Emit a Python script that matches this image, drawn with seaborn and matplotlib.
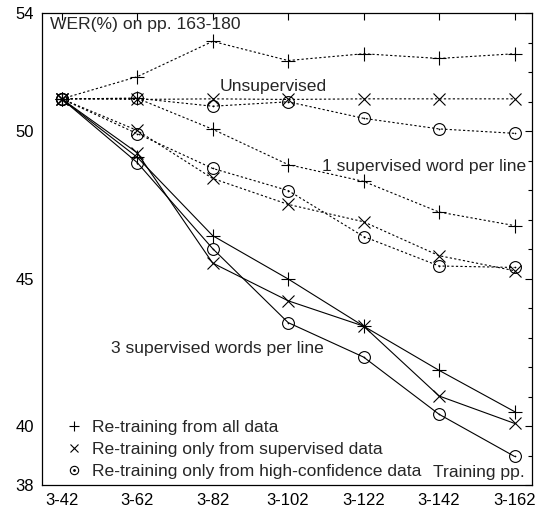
import numpy as np
import pandas as pd
import matplotlib
matplotlib.use("Agg")
import matplotlib.pyplot as plt
import seaborn as sns
from matplotlib.lines import Line2D
from matplotlib.legend_handler import HandlerTuple
from matplotlib.ticker import MultipleLocator

categories = ['3-42', '3-62', '3-82', '3-102', '3-122', '3-142', '3-162']

unsup_all = [51.1, 51.85, 53.05, 52.40, 52.63, 52.47, 52.63]
unsup_sup = [51.1, 51.08, 51.10, 51.08, 51.10, 51.10, 51.10]
unsup_conf = [51.1, 51.12, 50.85, 51.00, 50.44, 50.08, 49.93]
one_all = [51.1, 51.12, 50.07, 48.87, 48.30, 47.26, 46.80]
one_sup = [51.1, 50.03, 48.40, 47.52, 46.93, 45.78, 45.27]
one_conf = [51.1, 49.92, 48.74, 47.99, 46.43, 45.43, 45.38]
three_all = [51.1, 49.12, 46.46, 44.99, 43.39, 41.89, 40.49]
three_sup = [51.1, 49.27, 45.53, 44.25, 43.39, 41.02, 40.09]
three_conf = [51.1, 48.94, 46.02, 43.51, 42.34, 40.40, 38.97]

legend_labels = ['Re-training from all data',
                 'Re-training only from supervised data',
                 'Re-training only from high-confidence data']
y_ticks = [38, 40, 45, 50, 54]

sns.set_theme(style="white")
plt.rcParams['font.family'] = ['Liberation Sans', 'DejaVu Sans']
FS = 12.6

fig = plt.figure(figsize=(5.4, 5.14), dpi=100)
ax = fig.add_axes([0.0783, 0.0564, 0.985 - 0.0783, 0.974 - 0.0564])

x = np.arange(len(categories))
dotted = (0, (2, 2))
groups = [
    (unsup_all, unsup_sup, unsup_conf, dotted),
    (one_all, one_sup, one_conf, dotted),
    (three_all, three_sup, three_conf, '-'),
]
mk = dict(color='black', markeredgecolor='black', markeredgewidth=0.8, linewidth=0.8)
for a, s, c, ls in groups:
    sns.lineplot(x=x, y=a, ax=ax, marker='+', markersize=9.5, linestyle=ls, **mk)
    sns.lineplot(x=x, y=s, ax=ax, marker='x', markersize=8, linestyle=ls, **mk)
    sns.lineplot(x=x, y=c, ax=ax, marker='o', markersize=8.5, linestyle=ls,
                 markerfacecolor='none', **mk)
    sns.scatterplot(x=x, y=c, ax=ax, marker='o', s=1.5, color='black', linewidth=0)

ax.set_xlim(-0.257, 6.23)
ax.set_ylim(38, 54)
ax.set_xticks(x, labels=categories)
ax.set_yticks(y_ticks)
ax.yaxis.set_minor_locator(MultipleLocator(1))
ax.tick_params(axis='both', which='both', direction='in', top=True, right=True,
               colors='black', labelsize=12)
ax.tick_params(which='major', length=5, width=0.8, pad=6)
ax.tick_params(which='minor', length=3, width=0.8)
for sp in ax.spines.values():
    sp.set_color('black')
    sp.set_linewidth(0.9)
ax.set_xlabel('')
ax.set_ylabel('')

ax.text(-0.155, 53.62, 'WER(%) on pp. 163-180', ha='left', va='center', fontsize=FS)
ax.text(2.80, 51.53, 'Unsupervised', ha='center', va='center', fontsize=FS)
ax.text(6.16, 48.79, '1 supervised word per line', ha='right', va='center', fontsize=FS)
ax.text(0.66, 42.62, '3 supervised words per line', ha='left', va='center', fontsize=FS)
ax.text(6.14, 38.41, 'Training pp.', ha='right', va='center', fontsize=FS)

h1 = Line2D([], [], color='black', marker='+', linestyle='none', markersize=7, markeredgewidth=0.8)
h2 = Line2D([], [], color='black', marker='x', linestyle='none', markersize=5.5, markeredgewidth=0.8)
h3a = Line2D([], [], color='black', marker='o', linestyle='none', markersize=6,
             markerfacecolor='none', markeredgewidth=0.8)
h3b = Line2D([], [], color='black', marker='o', linestyle='none', markersize=1.0)
leg = ax.legend([h1, h2, (h3a, h3b)], legend_labels, loc='lower left',
                bbox_to_anchor=(0.025, -0.014), frameon=False, fontsize=FS,
                handler_map={tuple: HandlerTuple(ndivide=1)},
                handlelength=0.8, handletextpad=0.63, labelspacing=0.40,
                borderaxespad=0.3)

fig.savefig('out.png', dpi=100)
